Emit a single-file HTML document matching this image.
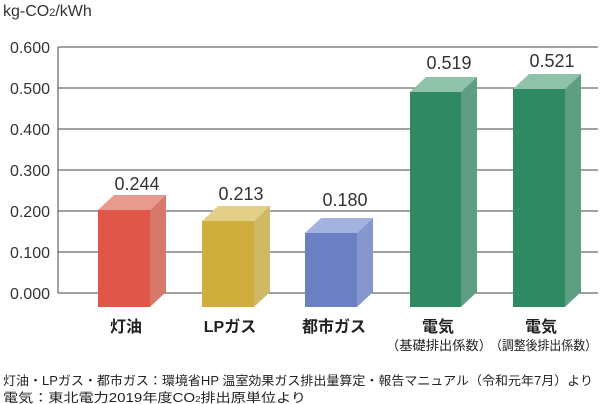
<!DOCTYPE html>
<html><head><meta charset="utf-8"><style>
body{margin:0;background:#fff;}
svg{display:block;font-family:"Liberation Sans","Noto Sans CJK JP",sans-serif;}
</style></head><body>
<svg width="600" height="404" viewBox="0 0 600 404">
<rect width="600" height="404" fill="#fff"/>
<text x="3" y="16" font-size="16" fill="#333">kg-CO<tspan font-size="11">2</tspan>/kWh</text>
<g stroke="#444" stroke-width="1">
<line x1="58" y1="47" x2="598" y2="47"/>
<line x1="58" y1="88" x2="598" y2="88"/>
<line x1="58" y1="129" x2="598" y2="129"/>
<line x1="58" y1="170" x2="598" y2="170"/>
<line x1="58" y1="211" x2="598" y2="211"/>
<line x1="58" y1="252" x2="598" y2="252"/>
<line x1="58" y1="293" x2="598" y2="293"/>
<line x1="58" y1="47" x2="58" y2="293"/>
</g>
<g font-size="16" fill="#333" text-anchor="end">
<text x="50" y="53">0.600</text><text x="50" y="94">0.500</text><text x="50" y="135">0.400</text>
<text x="50" y="176">0.300</text><text x="50" y="217">0.200</text><text x="50" y="258">0.100</text><text x="50" y="299">0.000</text>
</g>
<g>
<polygon points="98,210 114,195 166,195 150,210" fill="#e89a8c"/>
<polygon points="150,210 166,195 166,292 150,307" fill="#d7786a"/>
<rect x="98" y="210" width="52" height="97" fill="#e0574a"/>

<polygon points="202,221 218,206 270,206 254,221" fill="#e2d089"/>
<polygon points="254,221 270,206 270,292 254,307" fill="#cfb967"/>
<rect x="202" y="221" width="52" height="86" fill="#cfae3c"/>

<polygon points="305,233 321,218 373,218 357,233" fill="#a3b2de"/>
<polygon points="357,233 373,218 373,292 357,307" fill="#8597cc"/>
<rect x="305" y="233" width="52" height="74" fill="#6b80c2"/>

<polygon points="410,92 426,77 477,77 461,92" fill="#8fc2a9"/>
<polygon points="461,92 477,77 477,292 461,307" fill="#5e9e82"/>
<rect x="410" y="92" width="51" height="215" fill="#2f8a63"/>

<polygon points="513,89 529,74 581,74 565,89" fill="#8fc2a9"/>
<polygon points="565,89 581,74 581,292 565,307" fill="#5e9e82"/>
<rect x="513" y="89" width="52" height="218" fill="#2f8a63"/>
</g>
<g font-size="18" fill="#333" text-anchor="middle">
<text x="137" y="190">0.244</text>
<text x="241" y="200">0.213</text>
<text x="345" y="206">0.180</text>
<text x="449" y="69">0.519</text>
<text x="552" y="67">0.521</text>
</g>
<g font-size="16" fill="#222" text-anchor="middle" font-weight="bold">
<text x="126" y="332">灯油</text>
<text x="230" y="332">LPガス</text>
<text x="334" y="332">都市ガス</text>
<text x="438" y="332">電気</text>
<text x="541" y="332">電気</text>
</g>
<g font-size="13" fill="#222">
<text x="386" y="350" textLength="106" lengthAdjust="spacingAndGlyphs">（基礎排出係数）</text>
<text x="490" y="350" textLength="107" lengthAdjust="spacingAndGlyphs">（調整後排出係数）</text>
</g>
<g font-size="12.5" fill="#222">
<text x="3" y="385" textLength="590" lengthAdjust="spacingAndGlyphs">灯油・LPガス・都市ガス：環境省HP 温室効果ガス排出量算定・報告マニュアル（令和元年7月）より</text>
<text x="3" y="402" textLength="303" lengthAdjust="spacingAndGlyphs">電気：東北電力2019年度CO<tspan font-size="8">2</tspan>排出原単位より</text>
</g>
</svg>
</body></html>
